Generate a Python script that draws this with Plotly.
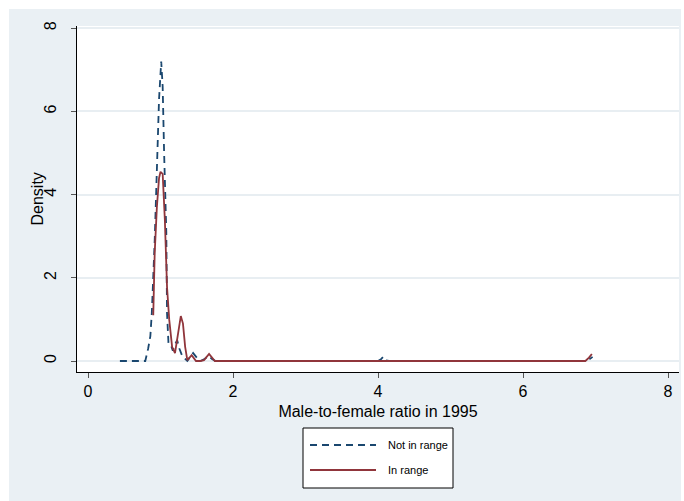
import plotly.graph_objects as go

# ---- data ----
not_in_range_x = [0.44, 0.60, 0.79, 0.83, 0.86, 0.88, 0.90, 0.92, 0.95, 0.98, 1.01, 1.03,
                  1.05, 1.08, 1.09, 1.11, 1.14, 1.17, 1.20, 1.23, 1.26, 1.30, 1.37, 1.41,
                  1.45, 1.50, 1.55, 1.60, 1.66, 1.71, 1.76, 2.0, 3.0, 4.0, 4.04, 4.07,
                  4.10, 4.15, 5.0, 6.0, 6.88, 6.93, 6.96]
not_in_range_y = [0.0, 0.0, 0.0, 0.30, 0.60, 1.15, 1.9, 2.9, 4.6, 6.3, 7.2, 6.6,
                  5.0, 3.1, 1.15, 0.43, 0.40, 0.25, 0.40, 0.50, 0.30, 0.12, 0.0, 0.10,
                  0.19, 0.08, 0.0, 0.04, 0.12, 0.05, 0.0, 0.0, 0.0, 0.0, 0.04, 0.10,
                  0.02, 0.0, 0.0, 0.0, 0.0, 0.06, 0.10]

in_range_x = [0.90, 0.92, 0.95, 0.98, 1.00, 1.03, 1.06, 1.09, 1.12, 1.16, 1.20, 1.25,
              1.28, 1.31, 1.34, 1.37, 1.43, 1.49, 1.55, 1.60, 1.67, 1.75, 2.0, 3.0,
              4.0, 5.0, 6.0, 6.86, 6.91, 6.95]
in_range_y = [1.1, 2.6, 3.7, 4.4, 4.55, 4.5, 3.4, 1.78, 1.0, 0.34, 0.19, 0.8,
              1.08, 0.9, 0.34, 0.02, 0.14, 0.0, 0.0, 0.02, 0.17, 0.0, 0.0, 0.0,
              0.0, 0.0, 0.0, 0.0, 0.08, 0.17]

series_names = ["Not in range", "In range"]
x_ticks = [0, 2, 4, 6, 8]
y_ticks = [0, 2, 4, 6, 8]
x_title = "Male-to-female ratio in 1995"
y_title = "Density"

# ---- style ----
NAVY = "rgb(26,71,111)"
MAROON = "rgb(144,53,59)"
BG = "rgb(234,240,244)"
GRID = "rgb(232,238,242)"
FONT = "Liberation Sans, Arial, Helvetica, sans-serif"

W, H = 684, 501
L, R, T, B = 77, 679, 26, 372  # plot area in px
pw, ph = R - L, B - T


def px(xp):
    return (xp - L) / pw


def py(yp):
    return (B - yp) / ph


fig = go.Figure()
fig.add_trace(go.Scatter(x=not_in_range_x, y=not_in_range_y, mode="lines",
                         name=series_names[0], showlegend=False,
                         line=dict(color=NAVY, width=1.8, dash="7px,5px")))
fig.add_trace(go.Scatter(x=in_range_x, y=in_range_y, mode="lines",
                         name=series_names[1], showlegend=False,
                         line=dict(color=MAROON, width=1.8)))

shapes = [
    # graph region (light bluish gray)
    dict(type="rect", xref="paper", yref="paper", x0=px(9), x1=px(681), y0=py(501), y1=py(9),
         fillcolor=BG, line=dict(width=0), layer="below"),
    # plot region (white)
    dict(type="rect", xref="paper", yref="paper", x0=0, x1=1, y0=0, y1=1,
         fillcolor="white", line=dict(width=0), layer="below"),
    # legend box
    dict(type="rect", xref="paper", yref="paper", x0=px(303), x1=px(453), y0=py(488), y1=py(428),
         fillcolor="white", line=dict(color="black", width=1)),
    # legend samples
    dict(type="line", xref="paper", yref="paper", x0=px(310), x1=px(376), y0=py(445), y1=py(445),
         line=dict(color=NAVY, width=1.8, dash="7px,5px")),
    dict(type="line", xref="paper", yref="paper", x0=px(310), x1=px(376), y0=py(470), y1=py(470),
         line=dict(color=MAROON, width=1.8)),
]

annotations = [
    dict(xref="paper", yref="paper", x=px(386), y=py(445), text=series_names[0], showarrow=False,
         xanchor="left", yanchor="middle", font=dict(family=FONT, size=11, color="black")),
    dict(xref="paper", yref="paper", x=px(386), y=py(470), text=series_names[1], showarrow=False,
         xanchor="left", yanchor="middle", font=dict(family=FONT, size=11, color="black")),
    dict(xref="paper", yref="paper", x=px(36.5), y=py(199), text=y_title, showarrow=False,
         textangle=-90, xanchor="center", yanchor="middle",
         font=dict(family=FONT, size=16, color="black")),
]

xr0 = -11 / 72.5
fig.update_layout(
    width=W, height=H,
    margin=dict(l=L, r=W - R, t=T, b=H - B, pad=0),
    paper_bgcolor="white", plot_bgcolor="white",
    font=dict(family=FONT, size=16, color="black"),
    shapes=shapes, annotations=annotations,
    showlegend=False,
    xaxis=dict(range=[xr0, 8 - xr0], tickvals=x_ticks, ticktext=[str(v) for v in x_ticks],
               showgrid=False, zeroline=False, showline=True, linecolor="black", linewidth=1,
               ticks="outside", ticklen=5, tickcolor="#555", tickwidth=1,
               tickfont=dict(size=16), title=dict(text=x_title, font=dict(size=16), standoff=6)),
    yaxis=dict(range=[-(372 - 361) / 41.59, 8 + 2.3 / 41.59], tickvals=y_ticks,
               ticktext=[str(v) for v in y_ticks], tickangle=-90, ticklabelstandoff=9,
               showgrid=True, gridcolor=GRID, gridwidth=1.5, zeroline=False,
               showline=True, linecolor="black", linewidth=1,
               ticks="outside", ticklen=5, tickcolor="#555", tickwidth=1,
               tickfont=dict(size=16)),
)

fig.write_html("out.html")
